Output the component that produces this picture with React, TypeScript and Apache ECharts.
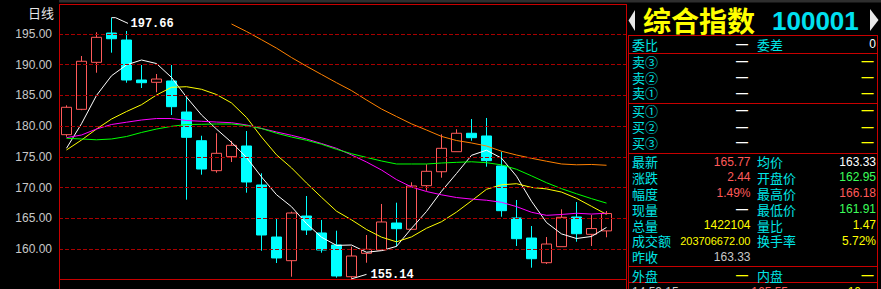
import React, { useEffect, useRef } from "react";
import * as echarts from "echarts";

// ---------- data ----------
const categories = [
  "01", "02", "03", "04", "05", "06", "07", "08", "09", "10",
  "11", "12", "13", "14", "15", "16", "17", "18", "19", "20",
  "21", "22", "23", "24", "25", "26", "27", "28", "29", "30",
  "31", "32", "33", "34", "35", "36", "37", "38",
];
const opens = [178.61, 182.74, 190.39, 195.16, 194.02, 187.51, 187.14, 187.35, 182.3, 177.63, 172.75, 175.03, 176.77, 170.42, 161.95, 158.1, 165.37, 162.61, 160.65, 155.49, 159.3, 159.84, 164.23, 163.21, 170.31, 172.58, 175.84, 178.84, 178.4, 173.51, 165.05, 161.79, 157.77, 160.38, 165.21, 162.39, 162.95];
const closes = [183.07, 190.56, 194.46, 194.23, 187.51, 187.07, 187.67, 183.17, 178.18, 173.02, 175.58, 176.88, 170.91, 162.28, 158.54, 165.86, 163.09, 159.84, 155.61, 158.86, 159.95, 164.4, 163.31, 170.26, 172.65, 176.39, 178.84, 178.12, 174.38, 166.24, 161.68, 158.42, 160.81, 165.16, 162.49, 163.33, 165.77];
const lows = [178.28, 182.6, 188.7, 191.96, 187.07, 186.21, 185.51, 181.81, 168.03, 172.1, 172.42, 174.16, 169.17, 159.72, 157.72, 155.49, 162.28, 159.4, 155.33, 155.14, 157.77, 159.84, 160.38, 163.21, 169.49, 171.61, 175.84, 177.63, 173.4, 165.26, 160.49, 156.96, 157.56, 160.38, 161.19, 160.49, 161.91];
const highs = [183.39, 191.42, 195.28, 197.66, 195.49, 189.95, 188.49, 189.95, 184.79, 178.44, 178.84, 177.6, 179.21, 172.32, 164.88, 166.07, 168.63, 164.72, 162.98, 160.38, 162.28, 167.33, 167.54, 170.86, 173.79, 178.67, 179.49, 181.16, 181.33, 175.84, 167.98, 163.74, 161.95, 166.46, 167.65, 165.54, 166.18];

const ma5 = [176.4, 180.4, 185.0, 188.2, 189.97, 190.77, 190.19, 187.93, 184.72, 181.82, 179.52, 177.37, 174.91, 171.73, 168.84, 166.89, 164.14, 161.92, 160.59, 160.65, 159.47, 159.73, 160.43, 163.36, 166.11, 169.4, 172.29, 175.25, 176.08, 174.79, 171.85, 167.77, 164.31, 162.46, 161.71, 162.04, 163.51];
const ma10 = [176.12, 177.74, 179.53, 181.16, 182.38, 183.49, 185.07, 186.32, 186.42, 186.0, 185.15, 183.78, 181.42, 178.23, 175.33, 173.21, 170.75, 168.42, 166.16, 164.75, 163.18, 161.93, 161.17, 161.97, 163.38, 164.44, 166.01, 167.84, 169.72, 170.45, 170.63, 170.03, 169.78, 169.27, 168.25, 166.95, 165.64];
const ma20 = [178.12, 178.56, 179.53, 180.27, 180.64, 181.0, 181.24, 181.24, 180.92, 180.79, 180.67, 180.56, 180.19, 179.62, 179.05, 178.51, 177.91, 177.17, 176.39, 175.32, 174.16, 172.86, 171.3, 170.1, 169.36, 168.82, 168.38, 168.13, 167.94, 167.6, 166.9, 165.98, 165.48, 165.62, 165.82, 165.69, 165.83];
const ma30 = [178.02, 177.91, 177.78, 177.91, 178.31, 178.97, 179.53, 179.97, 180.27, 180.3, 180.35, 180.35, 180.1, 179.62, 178.85, 178.23, 177.7, 177.06, 176.23, 175.51, 174.91, 174.33, 173.84, 173.84, 173.84, 174.0, 174.11, 174.2, 174.05, 173.7, 172.98, 171.91, 170.79, 169.82, 168.99, 168.2, 167.47];
const ma60: (number | string)[] = ["-", "-", "-", "-", "-", "-", "-", "-", "-", "-", "-", 196.63, 195.41, 194.07, 192.7, 191.17, 189.76, 188.41, 187.07, 185.79, 184.26, 182.79, 181.57, 180.37, 179.37, 178.33, 177.66, 177.26, 176.77, 175.92, 175.3, 174.77, 174.29, 173.84, 173.71, 173.76, 173.63];

const yTicks = [160, 165, 170, 175, 180, 185, 190, 195];
const periodLabel = "日线";
const titleName = "综合指数";
const titleCode = "100001";

const panelLeftLabels = ["委比", "卖③", "卖②", "卖①", "买①", "买②", "买③", "最新", "涨跌", "幅度", "现量", "总量", "成交额", "昨收", "外盘"];
const panelLeftValues = ["—", "—", "—", "—", "—", "—", "—", "165.77", "2.44", "1.49%", "—", "1422104", "203706672.00", "163.33", "—"];
const panelRightLabels = ["委差", "", "", "", "", "", "", "均价", "开盘价", "最高价", "最低价", "量比", "换手率", "", "内盘"];
const panelRightValues = ["0", "—", "—", "—", "—", "—", "—", "163.33", "162.95", "166.18", "161.91", "1.47", "5.72%", "", "—"];
const tickRow = ["14:59:15", "165.55", "10"];

// ---------- styles ----------
const C = {
  w: "#ffffff",
  r: "#ff5a5a",
  g: "#3cff5a",
  y: "#ffff00",
  gray: "#c8c8c8",
  cyan: "#00e6e6",
};
const leftValueStyle = ["w", "w", "w", "w", "w", "w", "w", "r", "r", "r", "w", "y", "y", "gray", "y"];
const rightValueStyle = ["w", "y", "y", "y", "y", "y", "y", "w", "g", "r", "g", "y", "y", "w", "y"];
const rowY = [44, 61, 77, 92.5, 110, 126.5, 142, 161.5, 177.3, 193, 209, 225, 240.7, 256.7, 275];

const FRAME = "#c80000";
const CJK = '"Noto Sans CJK SC"';
const NUM = '"Liberation Sans"';

export default function App() {
  const ref = useRef<HTMLDivElement>(null);

  useEffect(() => {
    document.body.style.margin = "0";
    document.body.style.background = "#000";
    const el = ref.current!;
    const chart = echarts.init(el, undefined, { renderer: "svg" });

    const candleData = opens.map((o, i) => [o, closes[i], lows[i], highs[i]]);
    const maLine = (data: any[], color: string) => ({
      type: "line",
      data,
      symbol: "none",
      silent: true,
      z: 3,
      lineStyle: { color, width: 1 },
      itemStyle: { color },
    });

    chart.setOption({
      animation: false,
      backgroundColor: "#000000",
      grid: { left: 59, top: 3.29, width: 570, height: 276.43 },
      xAxis: {
        type: "category",
        data: categories,
        boundaryGap: true,
        axisLine: { show: false },
        axisTick: { show: false },
        axisLabel: { show: false },
        splitLine: { show: false },
      },
      yAxis: {
        type: "value",
        min: 155,
        max: 200,
        interval: 5,
        axisLine: { show: false },
        axisTick: { show: false },
        splitLine: { show: false },
        axisLabel: {
          color: "#c8c8c8",
          fontSize: 12,
          lineHeight: 12,
          fontFamily: "Liberation Sans",
          margin: 7,
          showMinLabel: false,
          showMaxLabel: false,
          formatter: (v: number) => v.toFixed(2),
        },
      },
      series: [
        {
          type: "line",
          data: [],
          silent: true,
          z: 1,
          markLine: {
            silent: true,
            symbol: ["none", "none"],
            label: { show: false },
            lineStyle: { color: "#a80000", type: [4, 2], width: 1 },
            data: yTicks.map((v) => ({ yAxis: v })),
          },
        },
        {
          type: "candlestick",
          data: candleData,
          barWidth: 10,
          silent: true,
          z: 2,
          itemStyle: {
            color: "#000000",
            color0: "#00ffff",
            borderColor: C.r,
            borderColor0: "#00ffff",
            borderWidth: 1,
          },
        },
        maLine(ma5, "#ffffff"),
        maLine(ma10, "#ffff00"),
        maLine(ma20, "#ff00ff"),
        maLine(ma30, "#00ff00"),
        maLine(ma60, "#ff8000"),
      ],
    });

    const hiIdx = highs.indexOf(Math.max(...highs));
    const loIdx = lows.indexOf(Math.min(...lows));
    const hp = chart.convertToPixel({ gridIndex: 0 }, [hiIdx, highs[hiIdx]]) as number[];
    const lp = chart.convertToPixel({ gridIndex: 0 }, [loIdx, lows[loIdx]]) as number[];

    const Z = 50;
    const line = (x1: number, y1: number, x2: number, y2: number, stroke = FRAME) => ({
      type: "line",
      z: Z,
      silent: true,
      shape: { x1, y1, x2, y2 },
      style: { stroke, lineWidth: 1 },
    });
    const text = (t: string, x: number, y: number, fill: string, font: string, size: number, align = "left") => ({
      type: "text",
      z: Z + 1,
      silent: true,
      style: { text: t, x, y, fill, font, lineHeight: size, textAlign: align, textVerticalAlign: "middle" },
    });

    const els: any[] = [];
    // panel background over grid overflow
    els.push({ type: "rect", z: Z - 1, silent: true, shape: { x: 627, y: 0, width: 254, height: 289 }, style: { fill: "#000000" } });
    // top strip
    els.push({ type: "rect", z: Z, silent: true, shape: { x: 59, y: 0, width: 822, height: 2.6 }, style: { fill: "#2e2e2e" } });
    // chart frame
    els.push(line(59, 4.5, 627, 4.5));
    els.push(line(59.5, 4, 59.5, 289));
    els.push(line(59, 279.5, 627, 279.5));
    els.push(line(626.5, 4, 626.5, 289));
    // panel boxes
    [35.5, 53.5, 103.5, 153.5, 266.5, 282.5].forEach((y) => els.push(line(628, y, 878, y)));
    els.push(line(628.5, 35, 628.5, 289));
    els.push(line(877.5, 35, 877.5, 289));

    // period label
    els.push(text(periodLabel, 54, 12.5, "#e6e6e6", `13px ${CJK}`, 13, "right"));

    // high / low markers
    els.push({
      type: "polyline", z: Z, silent: true,
      shape: { points: [[hp[0], hp[1]], [hp[0] + 4, hp[1]], [hp[0] + 16.5, hp[1] + 5.7]] },
      style: { stroke: "#ffffff", lineWidth: 1, fill: "none" },
    });
    els.push(text(highs[hiIdx].toFixed(2), hp[0] + 19, hp[1] + 6.2, "#ffffff", `bold 12px "Liberation Mono"`, 12));
    els.push({
      type: "polyline", z: Z, silent: true,
      shape: { points: [[lp[0], lp[1]], [lp[0] + 15, lp[1] - 4.5]] },
      style: { stroke: "#ffffff", lineWidth: 1, fill: "none" },
    });
    els.push(text(lows[loIdx].toFixed(2), lp[0] + 19, lp[1] - 3.5, "#ffffff", `bold 12px "Liberation Mono"`, 12));

    // title
    els.push({ type: "polygon", z: Z, silent: true, shape: { points: [[635, 10], [628.5, 20.5], [635, 31]] }, style: { fill: "#e8e8e8" } });
    els.push({ type: "polygon", z: Z, silent: true, shape: { points: [[870, 9], [878.5, 20], [870, 31]] }, style: { fill: "#e8e8e8" } });
    els.push(text(titleName, 643, 19.5, "#ffff00", `bold 28px ${CJK}`, 26));
    els.push(text(titleCode, 772, 21, "#00e0f0", `bold 26px ${NUM}`, 24));

    // panel rows
    panelLeftLabels.forEach((lab, i) => {
      const y = rowY[i];
      els.push(text(lab, 632, y, C.cyan, `13px ${CJK}`, 13));
      const lv = panelLeftValues[i];
      if (lv) {
        const isDash = lv === "—";
        const size = lv.length > 9 ? 11 : 12;
        els.push(text(lv, isDash ? 748 : 750.5, y, (C as any)[leftValueStyle[i]], `${isDash ? "bold " : ""}${size}px ${NUM}`, size, "right"));
      }
      const rl = panelRightLabels[i];
      if (rl) els.push(text(rl, 757, y, C.cyan, `13px ${CJK}`, 13));
      const rv = panelRightValues[i];
      if (rv) {
        const isDash = rv === "—";
        els.push(text(rv, isDash ? 873.5 : 876, y, (C as any)[rightValueStyle[i]], `${isDash ? "bold " : ""}12px ${NUM}`, 12, "right"));
      }
    });
    // partially visible tick row (cut off by the bottom edge, as in the reference)
    els.push(text(tickRow[0], 632, 292, C.gray, `12px ${NUM}`, 12));
    els.push(text(tickRow[1], 788, 292, C.r, `12px ${NUM}`, 12, "right"));
    els.push(text(tickRow[2], 861, 292, C.y, `12px ${NUM}`, 12, "right"));

    chart.setOption({ graphic: { elements: els } });

    return () => chart.dispose();
  }, []);

  return (
    <div
      ref={ref}
      style={{ position: "absolute", left: 0, top: 0, width: 881, height: 289, background: "#000" }}
    />
  );
}
